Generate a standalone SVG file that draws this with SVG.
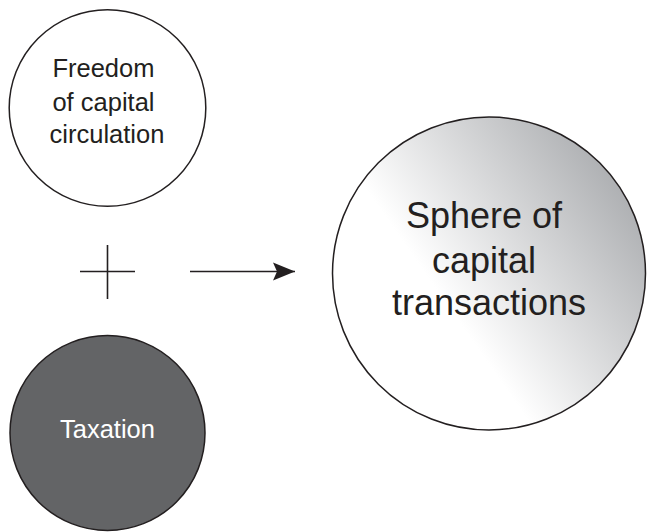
<svg xmlns="http://www.w3.org/2000/svg" width="647" height="532" viewBox="0 0 647 532">
  <style>
    .node { stroke: #231f20; stroke-width: 1.5; }
    .label { font-family: "Liberation Sans", Arial, sans-serif; text-anchor: middle; fill: #231f20; }
    .conn { stroke: #231f20; stroke-width: 1.6; fill: none; }
  </style>
  <defs>
    <linearGradient id="sphereFill" x1="0.38" y1="0.62" x2="0.98" y2="0.2">
      <stop offset="0" stop-color="#ffffff"/>
      <stop offset="1" stop-color="#a7a9ac"/>
    </linearGradient>
    <marker id="arrowHead" markerWidth="24" markerHeight="22" refX="22" refY="11" orient="auto" markerUnits="userSpaceOnUse">
      <path d="M0,2 L22,11 L0,20 L4,11 Z" fill="#231f20"/>
    </marker>
  </defs>

  <g id="freedom">
    <circle class="node" cx="107.5" cy="108" r="98.3" fill="#ffffff"/>
    <text class="label" font-size="25.5">
      <tspan x="107" y="77">Freedom</tspan>
      <tspan x="107" y="111">of capital</tspan>
      <tspan x="107" y="143">circulation</tspan>
    </text>
  </g>

  <g id="taxation">
    <circle class="node" cx="107.5" cy="433" r="97.5" fill="#636466"/>
    <text class="label" font-size="25.5" x="107.5" y="438" style="fill:#ffffff">Taxation</text>
  </g>

  <g id="sphere">
    <circle class="node" cx="489" cy="273.5" r="156.5" fill="url(#sphereFill)"/>
    <text class="label" font-size="36">
      <tspan x="489" y="228">Sphere of</tspan>
      <tspan x="489" y="273">capital</tspan>
      <tspan x="489" y="315">transactions</tspan>
    </text>
  </g>

  <g id="connectors">
    <path class="conn" d="M80,271.5 H135 M107.5,245 V299"/>
    <path class="conn" d="M190,271.5 H295" marker-end="url(#arrowHead)"/>
  </g>
</svg>
